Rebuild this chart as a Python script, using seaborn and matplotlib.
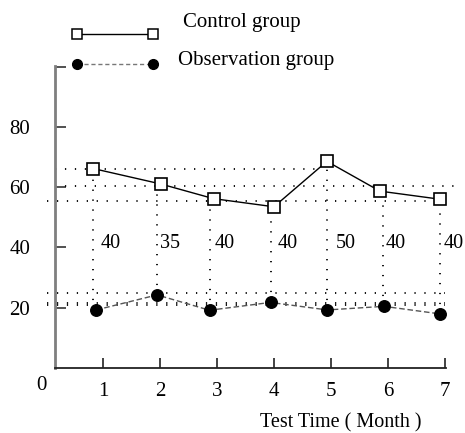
import matplotlib
matplotlib.use("Agg")
import matplotlib.pyplot as plt
import numpy as np
import pandas as pd
import seaborn as sns
from matplotlib.lines import Line2D

months = [1, 2, 3, 4, 5, 6, 7]
ctrl_x = [0.83, 2.01, 2.94, 4.0, 4.93, 5.86, 6.92]
ctrl_y = [66.2, 61.1, 56.2, 53.5, 68.6, 58.7, 56.0]
obs_x = [0.88, 1.95, 2.87, 3.94, 4.94, 5.93, 6.91]
obs_y = [19.2, 24.2, 19.1, 21.7, 19.2, 20.4, 17.9]
guide_x = [0.83, 1.95, 2.87, 3.94, 4.93, 5.92, 6.92]
diff_labels = ["40", "35", "40", "40", "50", "40", "40"]
label_x = [0.96, 2.0, 2.96, 4.07, 5.09, 5.96, 6.97]
h_vals = [66.2, 60.5, 55.3, 24.8, 21.6, 20.8]
h_start = [0.16, 0.16, 0.02, 0.02, 0.02, 0.02]
h_end = [4.8, 7.2, 6.98, 7.0, 7.0, 7.0]

sns.set_style("ticks")
plt.rcParams['font.family'] = ['Liberation Serif', 'DejaVu Serif']
plt.rcParams['text.color'] = 'black'
plt.rcParams['xtick.labelcolor'] = 'black'
plt.rcParams['ytick.labelcolor'] = 'black'

fig = plt.figure(figsize=(4.65, 4.33), dpi=100)
ax = fig.add_axes([55/465, 1-367.7/433, 391/465, 301.7/433])

dot = (0, (0.7, 4.8))
for v, a, b in zip(h_vals, h_start, h_end):
    ax.plot([a, b], [v, v], color="black", lw=1.3, linestyle=dot, clip_on=False, zorder=1)
ax.vlines(guide_x, obs_y, ctrl_y, colors="black", lw=1.3, linestyles=[dot], zorder=1)

ctrl = pd.DataFrame({"x": ctrl_x, "y": ctrl_y})
obs = pd.DataFrame({"x": obs_x, "y": obs_y})
sns.lineplot(data=ctrl, x="x", y="y", sort=False, color="black", lw=1.0,
             marker="s", markersize=8.5, markerfacecolor="white",
             markeredgecolor="black", markeredgewidth=1.2, ax=ax, zorder=3)
sns.lineplot(data=obs, x="x", y="y", sort=False, color="#555555", lw=1.0,
             dashes=False, ax=ax, zorder=2, linestyle=(0, (4, 2)))
ax.plot(obs_x, obs_y, linestyle="none", marker="o", markersize=8.3,
        color="black", zorder=4)

for xv, t in zip(label_x, diff_labels):
    ax.text(xv, 41.2, t, ha="left", va="center", fontsize=14.5, color="black")

ax.set_xlim(0.158, 7.02)
ax.set_ylim(0, 100.3)
ax.set_xticks(months)
ax.set_xticklabels([str(m) for m in months])
ax.set_yticks([20, 40, 60, 80, 100])
ax.set_yticklabels(["20", "40", "60", "80", ""])
ax.tick_params(axis="y", direction="in", length=8, width=1.2, color="#333333",
               pad=18, labelsize=15, labelcolor="black")
ax.tick_params(axis="x", direction="in", length=7.5, width=1.2, color="#222222",
               pad=10, labelsize=15, labelcolor="black")
ax.set_xlabel("")
ax.set_ylabel("")
for s in ["top", "right"]:
    ax.spines[s].set_visible(False)
ax.spines["left"].set_color("#7f7f7f")
ax.spines["left"].set_linewidth(2.0)
ax.spines["bottom"].set_color("#222222")
ax.spines["bottom"].set_linewidth(1.3)

fig.text(41/465, 1-386/433, "0", ha="center", va="center", fontsize=15, color="black")
fig.text(341/465, 1-423/433, "Test Time ( Month )", ha="center", va="center",
         fontsize=14.5, color="black")

# legend drawn by hand
def fx(px):
    return px/465

def fy(py):
    return 1-py/433

fig.add_artist(Line2D([fx(77), fx(153)], [fy(33.5), fy(33.5)], transform=fig.transFigure,
                      color="black", lw=1.0, marker="s", markersize=7.2,
                      markerfacecolor="white", markeredgecolor="black",
                      markeredgewidth=1.1))
fig.add_artist(Line2D([fx(77), fx(153)], [fy(63.5), fy(63.5)], transform=fig.transFigure,
                      color="#777777", lw=1.0, linestyle=(0, (3, 2))))
fig.add_artist(Line2D([fx(77), fx(153)], [fy(63.5), fy(63.5)], transform=fig.transFigure,
                      linestyle="none", marker="o", markersize=7, color="black"))
fig.text(fx(183), fy(22), "Control group", ha="left", va="center", fontsize=15, color="black")
fig.text(fx(178), fy(61), "Observation group", ha="left", va="center", fontsize=15, color="black")

fig.savefig("out.png", dpi=100)
